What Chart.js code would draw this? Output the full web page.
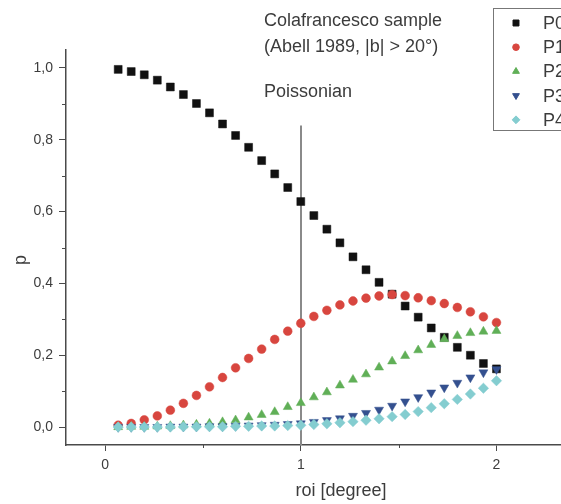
<!DOCTYPE html>
<html>
<head>
<meta charset="utf-8">
<script src="https://cdn.jsdelivr.net/npm/chart.js@4/dist/chart.umd.min.js"></script>
<style>
  html, body { margin: 0; padding: 0; overflow: hidden; background: #fff; }
  #plot { display: block; }
</style>
</head>
<body>
<canvas id="plot" width="573" height="504"></canvas>
<script>
// roi [degree] sampled every 1/15 degree
const roi = [
  0.0667, 0.1333, 0.2000, 0.2667, 0.3333, 0.4000, 0.4667, 0.5333, 0.6000, 0.6667,
  0.7333, 0.8000, 0.8667, 0.9333, 1.0000, 1.0667, 1.1333, 1.2000, 1.2667, 1.3333,
  1.4000, 1.4667, 1.5333, 1.6000, 1.6667, 1.7333, 1.8000, 1.8667, 1.9333, 2.0000
];

// probabilities of finding 0..4 clusters in the region
const p0 = [
  0.996, 0.990, 0.981, 0.966, 0.947, 0.926, 0.901, 0.875, 0.844, 0.812,
  0.779, 0.742, 0.705, 0.667, 0.628, 0.589, 0.551, 0.513, 0.474, 0.438,
  0.403, 0.370, 0.337, 0.306, 0.276, 0.250, 0.222, 0.200, 0.177, 0.162
];
const p1 = [
  0.005, 0.010, 0.020, 0.031, 0.047, 0.066, 0.088, 0.112, 0.138, 0.165,
  0.191, 0.217, 0.244, 0.267, 0.289, 0.308, 0.325, 0.340, 0.351, 0.359,
  0.365, 0.369, 0.366, 0.360, 0.352, 0.344, 0.333, 0.321, 0.307, 0.291
];
const p2 = [
  0.000, 0.001, 0.001, 0.002, 0.003, 0.005, 0.007, 0.010, 0.014, 0.019,
  0.027, 0.034, 0.042, 0.056, 0.067, 0.083, 0.097, 0.116, 0.132, 0.147,
  0.166, 0.183, 0.198, 0.214, 0.229, 0.245, 0.254, 0.262, 0.266, 0.268
];
const p3 = [
  0.000, 0.000, 0.000, 0.000, 0.001, 0.001, 0.001, 0.002, 0.002, 0.003,
  0.004, 0.005, 0.006, 0.008, 0.010, 0.014, 0.019, 0.024, 0.031, 0.039,
  0.048, 0.059, 0.071, 0.083, 0.096, 0.110, 0.123, 0.138, 0.152, 0.161
];
const p4 = [
  0.000, 0.000, 0.000, 0.000, 0.000, 0.001, 0.001, 0.001, 0.001, 0.002,
  0.002, 0.003, 0.003, 0.004, 0.005, 0.007, 0.009, 0.012, 0.015, 0.019,
  0.023, 0.029, 0.035, 0.043, 0.054, 0.065, 0.077, 0.092, 0.108, 0.129
];

const seriesNames = ['P0', 'P1', 'P2', 'P3', 'P4'];
const xTicks = [0, 1, 2];
const xMinorTicks = [0.5, 1.5];
const yMinorTicks = [0.1, 0.3, 0.5, 0.7, 0.9];

// Poissonian reference roi and the top of its marker line
const poissonRoi = 1;
const poissonTop = 0.84;

const noteLines = ['Colafrancesco sample', '(Abell 1989, |b| > 20°)', '', 'Poissonian'];

const FONT = '"Liberation Sans", Arial, sans-serif';
const TEXT = '#3c3c3c';
const AXIS = '#4a4a4a';

const styles = [
  { color: '#111111', pointStyle: 'rect', radius: 5.6, rotation: 0 },
  { color: '#d8463f', pointStyle: 'circle', radius: 4.4, rotation: 0 },
  { color: '#60af57', pointStyle: 'triangle', radius: 5.2, rotation: 0 },
  { color: '#34508f', pointStyle: 'triangle', radius: 5.2, rotation: 180 },
  { color: '#84cdd0', pointStyle: 'rectRot', radius: 5.2, rotation: 0 }
];

const values = [p0, p1, p2, p3, p4];
const datasets = values.map((vals, i) => ({
  label: seriesNames[i],
  data: roi.map((x, k) => ({ x: x, y: vals[k] })),
  showLine: false,
  pointStyle: styles[i].pointStyle,
  pointRadius: styles[i].radius,
  pointHoverRadius: styles[i].radius,
  pointRotation: styles[i].rotation,
  backgroundColor: styles[i].color,
  borderColor: styles[i].color,
  borderWidth: 0.5,
  order: values.length - 1 - i
}));

const decorations = {
  id: 'decorations',
  beforeDatasetsDraw(chart) {
    const { ctx, scales: { x, y }, chartArea } = chart;
    ctx.save();
    ctx.strokeStyle = '#8a8a8a';
    ctx.lineWidth = 2;
    const px = Math.round(x.getPixelForValue(poissonRoi));
    ctx.beginPath();
    ctx.moveTo(px, y.getPixelForValue(poissonTop));
    ctx.lineTo(px, chartArea.bottom);
    ctx.stroke();
    ctx.restore();
  },
  afterDraw(chart) {
    const { ctx, scales: { x, y }, chartArea } = chart;
    ctx.save();

    // minor ticks
    ctx.strokeStyle = AXIS;
    ctx.lineWidth = 1;
    ctx.beginPath();
    xMinorTicks.forEach(v => {
      const px = Math.round(x.getPixelForValue(v)) + 0.5;
      ctx.moveTo(px, chartArea.bottom);
      ctx.lineTo(px, chartArea.bottom + 3);
    });
    yMinorTicks.forEach(v => {
      const py = Math.round(y.getPixelForValue(v)) + 0.5;
      ctx.moveTo(chartArea.left, py);
      ctx.lineTo(chartArea.left - 4, py);
    });
    ctx.stroke();

    // axis titles
    ctx.fillStyle = TEXT;
    ctx.font = '18px ' + FONT;
    ctx.textAlign = 'center';
    ctx.textBaseline = 'middle';
    ctx.fillText('roi [degree]', 341, 491);
    ctx.save();
    ctx.translate(21, 260);
    ctx.rotate(-Math.PI / 2);
    ctx.fillText('p', 0, 0);
    ctx.restore();

    // annotation
    ctx.textAlign = 'left';
    ctx.textBaseline = 'alphabetic';
    ctx.font = '18px ' + FONT;
    const noteX = 264;
    [26, 52, 74, 97].forEach((base, i) => {
      if (noteLines[i]) ctx.fillText(noteLines[i], noteX, base);
    });

    // legend box
    const boxLeft = 493.5, boxTop = 8.5, rowH = 24.2;
    ctx.fillStyle = '#ffffff';
    ctx.fillRect(boxLeft, boxTop, 120, 122);
    ctx.strokeStyle = '#777777';
    ctx.lineWidth = 1;
    ctx.strokeRect(boxLeft, boxTop, 120, 122);
    ctx.font = '18px ' + FONT;
    ctx.textBaseline = 'middle';
    chart.data.datasets.forEach((ds, i) => {
      const cy = boxTop + 14.5 + i * rowH;
      ctx.fillStyle = ds.backgroundColor;
      ctx.strokeStyle = ds.borderColor;
      Chart.helpers.drawPoint(ctx, {
        pointStyle: ds.pointStyle,
        rotation: ds.pointRotation,
        radius: ds.pointRadius * 0.75,
        borderWidth: 0.5
      }, 516, cy);
      ctx.fillStyle = TEXT;
      ctx.fillText(ds.label, 543, cy + 1);
    });
    ctx.restore();
  }
};

new Chart(document.getElementById('plot'), {
  type: 'scatter',
  data: { datasets },
  plugins: [decorations],
  options: {
    responsive: false,
    animation: false,
    devicePixelRatio: 1,
    layout: { padding: { top: 50, left: 0, right: 0, bottom: 0 } },
    plugins: {
      legend: { display: false },
      tooltip: { enabled: false }
    },
    scales: {
      x: {
        type: 'linear',
        min: -0.2,
        max: 2.36,
        afterFit(scale) { scale.height = 59; },
        afterBuildTicks(scale) { scale.ticks = xTicks.map(v => ({ value: v })); },
        ticks: {
          color: TEXT,
          font: { family: FONT, size: 14 },
          padding: 6,
          maxRotation: 0,
          callback: v => String(v)
        },
        grid: { drawOnChartArea: false, drawTicks: true, tickLength: 6, tickColor: AXIS },
        border: { display: true, color: AXIS, width: 1.5 }
      },
      y: {
        type: 'linear',
        min: -0.05,
        max: 1.05,
        afterFit(scale) { scale.width = 66; },
        ticks: {
          stepSize: 0.2,
          includeBounds: false,
          color: TEXT,
          font: { family: FONT, size: 14 },
          padding: 6,
          callback: v => v.toFixed(1).replace('.', ',')
        },
        grid: { drawOnChartArea: false, drawTicks: true, tickLength: 7, tickColor: AXIS },
        border: { display: true, color: AXIS, width: 1.5 }
      }
    }
  }
});
</script>
</body>
</html>
